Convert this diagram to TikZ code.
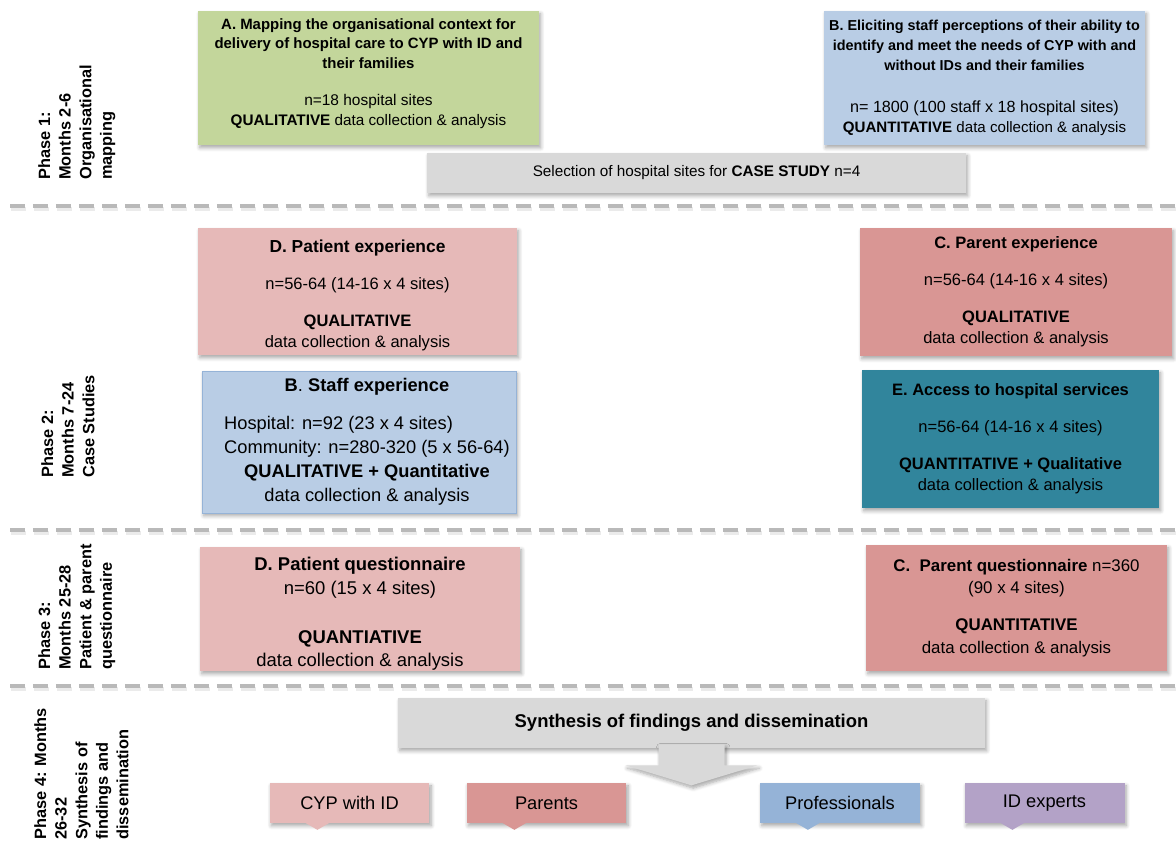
\documentclass[tikz,border=0pt]{standalone}
\usepackage{fontspec}
\setmainfont{Liberation Sans}
\usepackage{tikz}
\usetikzlibrary{shapes,positioning,calc,shadows,shadows.blur}

\definecolor{leafgreen}{RGB}{195,214,155}
\definecolor{skyblue}{RGB}{185,205,229}
\definecolor{skyline}{RGB}{149,179,215}
\definecolor{paleblush}{RGB}{230,185,184}
\definecolor{rosebox}{RGB}{217,150,148}
\definecolor{tealbox}{RGB}{49,133,156}
\definecolor{greybox}{RGB}{217,217,217}
\definecolor{lilac}{RGB}{179,162,199}
\definecolor{dashgrey}{RGB}{185,185,185}

\newcommand\fs[2]{{\fontsize{#1}{12}\selectfont #2}}

\begin{document}
\begin{tikzpicture}[x=0.02cm, y=-0.02cm,
    shade/.style={blur shadow={shadow xshift=1pt, shadow yshift=-1.6pt, shadow opacity=35, shadow blur steps=6}},
    box/.style={rectangle, inner sep=0pt, align=center, shade, font=\fontsize{9.4}{12}\selectfont},
    phase/.style={rotate=90, anchor=north west, inner sep=0pt, align=left, font=\fontsize{9.3}{11.7}\selectfont\bfseries},
    sep/.style={dashgrey, line width=2.2pt, dash pattern=on 0.3cm off 0.16cm},
    sepshade/.style={black!8, line width=2.6pt, dash pattern=on 0.3cm off 0.16cm},
    tag/.style={rectangle, inner sep=0pt, minimum width=3.2cm, minimum height=0.8cm, shade, font=\fontsize{10.4}{12}\selectfont}]
    \useasboundingbox (0,0) rectangle (1176,842);

    \foreach \y in {206,530,686} {
        \draw[sepshade] (11,\y+3) -- (1176,\y+3);
        \draw[sep] (10,\y) -- (1176,\y);
    }

    \node[phase] (ph1) at (38,180) {Phase 1:\\ Months 2-6\\ Organisational\\ mapping};
    \node[phase] (ph2) at (41,478) {Phase 2:\\ Months 7-24\\ Case Studies};
    \node[phase] (ph3) at (38,670) {Phase 3:\\ Months 25-28\\ Patient \& parent\\ questionnaire};
    \node[phase] (ph4) at (34,840) {Phase 4: Months\\ 26-32\\ Synthesis of\\ findings and\\ dissemination};

    \node[box, fill=leafgreen, minimum width=6.82cm, minimum height=2.68cm, font=\fontsize{8.5}{11.1}\selectfont] (mapA) at (368.5,78)
        {\textbf{A. Mapping the organisational context for}\\ \textbf{delivery of hospital care to CYP with ID and}\\ \textbf{their families}\\[10.5pt] \fs{8.8}{n=18 hospital sites}\\ \fs{8.7}{\textbf{QUALITATIVE} data collection \& analysis}\rule[-7pt]{0pt}{0pt}};
    \node[box, fill=skyblue, minimum width=6.42cm, minimum height=2.68cm, font=\fontsize{8.2}{11.2}\selectfont] (staffQ) at (984.5,78)
        {\textbf{B. Eliciting staff perceptions of their ability to}\\ \textbf{identify and meet the needs of CYP with and}\\ \textbf{without IDs and their families}\\[13pt] \fs{9.2}{n= 1800 (100 staff x 18 hospital sites)}\\ \fs{8.6}{\textbf{QUANTITATIVE} data collection \& analysis}};
    \node[box, fill=greybox, minimum width=10.78cm, minimum height=0.8cm, font=\fontsize{8.7}{12}\selectfont] (select) at (696.5,173)
        {Selection of hospital sites for \textbf{CASE STUDY} n=4};

    \node[box, fill=paleblush, minimum width=6.38cm, minimum height=2.54cm] (patExp) at (357.5,291.5)
        {\rule{0pt}{11.7pt}\fs{9.9}{\textbf{D. Patient experience}}\\[9.5pt] n=56-64 (14-16 x 4 sites)\\[9pt] \textbf{QUALITATIVE}\\ data collection \& analysis};
    \node[box, fill=rosebox, minimum width=6.24cm, minimum height=2.56cm] (parExp) at (1016,292)
        {\textbf{C. Parent experience}\\[9pt] n=56-64 (14-16 x 4 sites)\\[9pt] \textbf{QUALITATIVE}\\ data collection \& analysis};
    \node[box, fill=skyblue, draw=skyline, minimum width=6.28cm, minimum height=2.84cm, font=\fontsize{10.4}{13.7}\selectfont] (staffExp) at (359,442)
        {\hspace*{0.32cm}\begin{tabular}{@{}c@{}}\textbf{B}.\textbf{ Staff experience}\\[8pt] \begin{tabular}{@{}l@{}}Hospital: n=92 (23 x 4 sites)\\ Community: n=280-320 (5 x 56-64)\end{tabular}\\ \textbf{QUALITATIVE + Quantitative}\\ data collection \& analysis\end{tabular}};
    \node[box, fill=tealbox, minimum width=5.94cm, minimum height=2.76cm] (access) at (1010.5,439)
        {\textbf{E. Access to hospital services}\\[9pt] n=56-64 (14-16 x 4 sites)\\[9pt] \textbf{QUANTITATIVE + Qualitative}\\ data collection \& analysis};

    \node[box, fill=paleblush, minimum width=6.4cm, minimum height=2.48cm, font=\fontsize{10.5}{13.3}\selectfont] (patQ) at (360,609)
        {\rule{0pt}{13.2pt}\textbf{D. Patient questionnaire}\\ n=60 (15 x 4 sites)\\[14.5pt] \textbf{QUANTIATIVE}\\ data collection \& analysis};
    \node[box, fill=rosebox, minimum width=6.02cm, minimum height=2.52cm, font=\fontsize{9.6}{13}\selectfont] (parQ) at (1016.5,608)
        {\textbf{C.\ \ Parent questionnaire} n=360\\ (90 x 4 sites)\\[8pt] \textbf{QUANTITATIVE}\\ data collection \& analysis};

    \node[box, fill=greybox, minimum width=11.74cm, minimum height=1cm, font=\fontsize{10.5}{12}\selectfont] (synth) at (691.5,723)
        {\textbf{Synthesis of findings and dissemination}};
    \fill[greybox, shade] ($(synth.south)+(-33,-4)$) -- ++(0,21) -- ++(-33,0) -- ($(synth.south)+(0,37)$)
        -- ($(synth.south)+(66,17)$) -- ++(-33,0) -- ++(0,-21) -- cycle;

    \node[tag, fill=paleblush] (cyp) at (349.5,803) {CYP with ID};
    \node[tag, fill=rosebox] (parents) at (546.5,803) {Parents};
    \node[tag, fill=skyline] (prof) at (840,803) {Professionals};
    \node[tag, fill=lilac] (idexp) at (1044.5,803) {ID experts};
    \foreach \n/\c in {cyp/paleblush, parents/rosebox, prof/skyline, idexp/lilac}
        \fill[\c] ($(\n.south west)!0.3!(\n.south east)+(-12,-0.5)$) -- ++(24,0) -- ++(-12,7) -- cycle;
\end{tikzpicture}
\end{document}
